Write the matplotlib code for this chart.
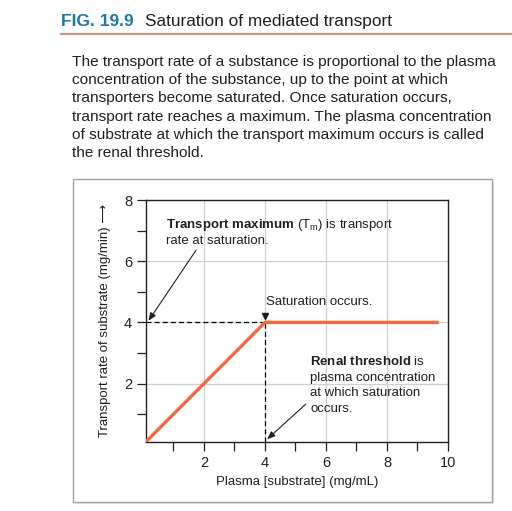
import matplotlib
matplotlib.use("Agg")
import matplotlib.pyplot as plt
from matplotlib.patches import Rectangle
from matplotlib.lines import Line2D

# ---- data ----
fig_label = "FIG. 19.9"
title = "Saturation of mediated transport"
body_lines = [
    "The transport rate of a substance is proportional to the plasma",
    "concentration of the substance, up to the point at which",
    "transporters become saturated. Once saturation occurs,",
    "transport rate reaches a maximum. The plasma concentration",
    "of substrate at which the transport maximum occurs is called",
    "the renal threshold.",
]
plasma = [0.1, 4, 9.7]          # mg/mL
rate = [0.1, 4, 4]              # mg/min
threshold = 4                   # renal threshold (mg/mL)
tmax = 4                        # transport maximum (mg/min)
x_ticks = [1, 2, 3, 4, 5, 6, 7, 8, 9, 10]
x_labels = ["", "2", "", "4", "", "6", "", "8", "", "10"]
y_ticks = [1, 2, 3, 4, 5, 6, 7, 8]
y_labels = ["", "2", "", "4", "", "6", "", "8"]
x_grid = [2, 4, 6, 8]
y_grid = [2, 4, 6]
x_label = "Plasma [substrate] (mg/mL)"
y_label = "Transport rate of substrate (mg/min) \u27f6"
tm_text = "$\\mathbf{Transport\\ maximum}$ (T$_\\mathregular{m}$) is transport\nrate at saturation."
sat_text = "Saturation occurs."
renal_text = "$\\mathbf{Renal\\ threshold}$ is\nplasma concentration\nat which saturation\noccurs."

plt.rcParams['font.family'] = ['Liberation Sans', 'DejaVu Sans']
plt.rcParams['mathtext.fontset'] = 'custom'
plt.rcParams['mathtext.rm'] = 'Liberation Sans'
plt.rcParams['mathtext.bf'] = 'Liberation Sans:bold'
plt.rcParams['mathtext.it'] = 'Liberation Sans:italic'
plt.rcParams['mathtext.default'] = 'regular'

W, H = 512, 511
fig = plt.figure(figsize=(W / 100, H / 100), dpi=100)
fig.patch.set_facecolor('white')

def fx(px):
    return px / W

def fy(py):
    return 1 - py / H

# header
fig.text(fx(61), fy(26), fig_label, color='#1b7aa6', fontsize=12.5, fontweight='bold',
         family=['Liberation Sans Narrow', 'Liberation Sans'], va='baseline', ha='left')
fig.text(fx(145), fy(26), title, color='#231f20', fontsize=12.4, va='baseline', ha='left')
fig.add_artist(Line2D([fx(61), fx(512)], [fy(34), fy(34)], color='#c49a82', lw=1.6))

for i, line in enumerate(body_lines):
    fig.text(fx(72), fy(65.7 + 18.3 * i), line, color='#231f20', fontsize=11.1,
             va='baseline', ha='left')

# chart box with shadow
fig.add_artist(Rectangle((fx(75), fy(504)), fx(492) - fx(72.7), fy(179.3) - fy(501.7),
                         transform=fig.transFigure, facecolor='#e6e6e6', edgecolor='none', zorder=-2))
fig.add_artist(Rectangle((fx(72.7), fy(501.7)), fx(492) - fx(72.7), fy(179.3) - fy(501.7),
                         transform=fig.transFigure, facecolor='white', edgecolor='#a0a0a0',
                         lw=1.0, zorder=-1))

ax = fig.add_axes([fx(146), fy(441.7), fx(448) - fx(146), fy(200) - fy(441.7)])
ax.set_zorder(2)
ax.set_facecolor('none')
ax.set_xlim(0.1, 10)
ax.set_ylim(0.1, 8)

for g in x_grid:
    ax.axvline(g, color='#cfcfcf', lw=0.9, zorder=1)
for g in y_grid:
    ax.axhline(g, color='#cfcfcf', lw=0.9, zorder=1)

ax.plot([0.1, threshold], [tmax, tmax], color='black', lw=0.9, ls=(0, (4, 2.5)), zorder=2)
ax.plot([threshold, threshold], [0.1, tmax], color='black', lw=0.9, ls=(0, (4, 2.5)), zorder=2)
ax.plot(plasma, rate, color='#f26a3c', lw=2.4, solid_capstyle='butt', zorder=3)
ax.plot([threshold], [tmax + 0.2], marker='v', color='#231f20', markersize=5, zorder=4)

ax.set_xticks(x_ticks)
ax.set_xticklabels(x_labels)
ax.set_yticks(y_ticks)
ax.set_yticklabels(y_labels)
ax.tick_params(direction='out', length=6.5, width=0.9, colors='#231f20', labelsize=10.5, pad=3.5)
for s in ax.spines.values():
    s.set_color('#231f20')
    s.set_linewidth(1.0)

ax.annotate(tm_text, xy=(0.18, 4.05), xytext=(0.76, 7.44), fontsize=9.5, color='#231f20',
            va='top', ha='left', linespacing=1.25,
            arrowprops=dict(arrowstyle='-|>,head_length=0.5,head_width=0.2', color='#231f20',
                            lw=0.8, shrinkA=0, shrinkB=0, relpos=(0.14, 0.0)))
ax.text(4.05, 4.67, sat_text, fontsize=9.5, color='#231f20', va='center', ha='left')
ax.annotate(renal_text, xy=(4.07, 0.18), xytext=(5.49, 2.92), fontsize=9.5, color='#231f20',
            va='top', ha='left', linespacing=1.38,
            arrowprops=dict(arrowstyle='-|>,head_length=0.5,head_width=0.2', color='#231f20',
                            lw=0.8, shrinkA=2, shrinkB=0, relpos=(0.0, 0.25)))

fig.text(fx(297), fy(481.7), x_label, fontsize=9.5, color='#231f20', ha='center', va='center')
fig.text(fx(105), fy(320), y_label, fontsize=9.5, color='#231f20', ha='center', va='center',
         rotation=90)

fig.savefig('out.png', dpi=100)
